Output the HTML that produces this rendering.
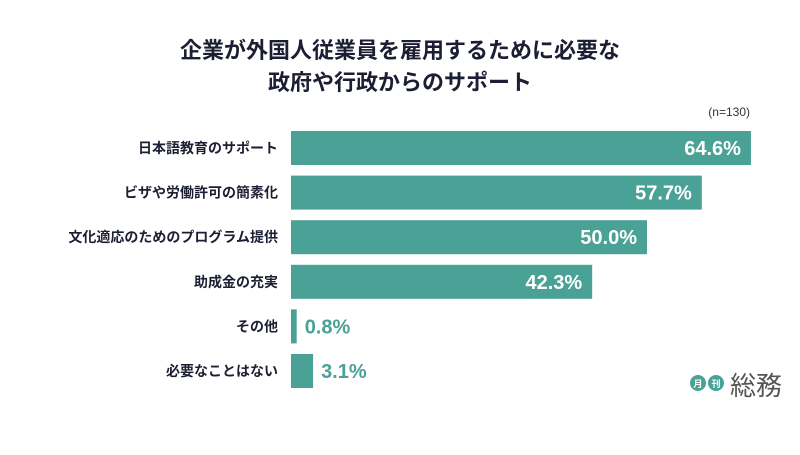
<!DOCTYPE html>
<html><head><meta charset="utf-8"><style>
body{margin:0;width:800px;height:450px;background:#fff;font-family:"Liberation Sans","Noto Sans CJK JP",sans-serif;overflow:hidden}
</style></head><body>
<svg width="800" height="450" xmlns="http://www.w3.org/2000/svg">
<text x="400" y="58" text-anchor="middle" font-size="22" font-weight="bold" fill="#1c1f33">企業が外国人従業員を雇用するために必要な</text>
<text x="400" y="90" text-anchor="middle" font-size="22" font-weight="bold" fill="#1c1f33">政府や行政からのサポート</text>
<text x="750" y="116" text-anchor="end" font-size="12" fill="#333">(n=130)</text>
<g id="bars"></g>
<g>
<circle cx="698" cy="383" r="8" fill="#4aa196"/><text x="698" y="387" text-anchor="middle" font-size="9" font-weight="bold" fill="#fff">月</text>
<circle cx="716" cy="383" r="8" fill="#4aa196"/><text x="716" y="387" text-anchor="middle" font-size="9" font-weight="bold" fill="#fff">刊</text>
<text x="730" y="395" font-size="26" fill="#555">総務</text>
</g>
</svg>
<script>
const categories=["日本語教育のサポート","ビザや労働許可の簡素化","文化適応のためのプログラム提供","助成金の充実","その他","必要なことはない"];
const values=[64.6,57.7,50.0,42.3,0.8,3.1];
const x0=291,scale=7.12,y0=131,step=44.6,bh=34;
const g=document.getElementById('bars');const ns="http://www.w3.org/2000/svg";
values.forEach((v,i)=>{
 const y=y0+i*step,w=v*scale;
 const r=document.createElementNS(ns,'rect');
 r.setAttribute('x',x0);r.setAttribute('y',y);r.setAttribute('width',w);r.setAttribute('height',bh);r.setAttribute('fill','#4aa196');
 
 
 g.appendChild(r);
 const l=document.createElementNS(ns,'text');
 l.setAttribute('x',278);l.setAttribute('y',y+bh/2+5);l.setAttribute('text-anchor','end');l.setAttribute('font-size','14');l.setAttribute('font-weight','bold');l.setAttribute('fill','#1c1f33');
 l.textContent=categories[i];
 
 
 g.appendChild(l);
 const t=document.createElementNS(ns,'text');
 const inside=w>60;
 t.setAttribute('x',inside?x0+w-10:x0+w+8);t.setAttribute('y',y+bh/2+7);t.setAttribute('text-anchor',inside?'end':'start');
 t.setAttribute('font-size','20');t.setAttribute('font-weight','bold');t.setAttribute('fill',inside?'#fff':'#4aa196');
 t.textContent=v.toFixed(1)+'%';
 
 
 g.appendChild(t);
});
</script>
</body></html>
